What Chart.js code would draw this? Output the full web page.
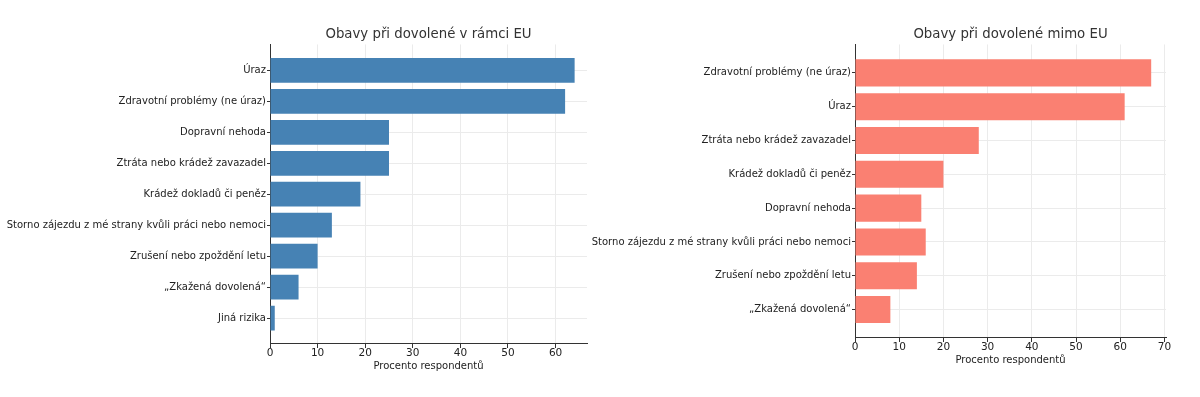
<!DOCTYPE html>
<html>
<head>
<meta charset="utf-8">
<script src="https://cdn.jsdelivr.net/npm/chart.js@4"></script>
<style>
  html, body { margin: 0; padding: 0; background: #fff; }
  body { width: 1200px; height: 397px; position: relative; overflow: hidden; }
  .box { position: absolute; top: 0; height: 397px; }
</style>
</head>
<body>
<div class="box" style="left:0;width:600px"><canvas id="euChart"></canvas></div>
<div class="box" style="left:585px;width:615px"><canvas id="nonEuChart"></canvas></div>
<script>
// values (percent of respondents)
const euLabels = [
    'Úraz',
    'Zdravotní problémy (ne úraz)',
    'Dopravní nehoda',
    'Ztráta nebo krádež zavazadel',
    'Krádež dokladů či peněz',
    'Storno zájezdu z mé strany kvůli práci nebo nemoci',
    'Zrušení nebo zpoždění letu',
    '„Zkažená dovolená“',
    'Jiná rizika'
];
const euValues = [64, 62, 25, 25, 19, 13, 10, 6, 1];

const nonEuLabels = [
    'Zdravotní problémy (ne úraz)',
    'Úraz',
    'Ztráta nebo krádež zavazadel',
    'Krádež dokladů či peněz',
    'Dopravní nehoda',
    'Storno zájezdu z mé strany kvůli práci nebo nemoci',
    'Zrušení nebo zpoždění letu',
    '„Zkažená dovolená“'
];
const nonEuValues = [67, 61, 28, 20, 15, 16, 14, 8];

const xTicks = [0, 10, 20, 30, 40, 50, 60, 70];

Chart.defaults.font.family = "'DejaVu Sans', sans-serif";
Chart.defaults.color = '#222';

window.barCharts = {
    _instances: {},

    create: function (canvasId, cfg) {
        const ctx = document.getElementById(canvasId);
        if (!ctx) return;
        const points = cfg.values.map((v, i) => ({ x: v, y: i }));
        const n = cfg.labels.length;

        this._instances[canvasId] = new Chart(ctx, {
            type: 'bar',
            data: {
                datasets: [{
                    data: points,
                    backgroundColor: cfg.color,
                    borderWidth: 0,
                    barPercentage: 0.8,
                    categoryPercentage: 1.0
                }]
            },
            options: {
                indexAxis: 'y',
                responsive: true,
                maintainAspectRatio: false,
                animation: false,
                layout: { padding: { left: 0, right: cfg.padRight, top: 0, bottom: 0 } },
                plugins: {
                    legend: { display: false },
                    tooltip: { enabled: false },
                    title: {
                        display: true,
                        text: cfg.title,
                        fullSize: false,
                        color: '#333',
                        font: { size: 13.3, weight: 'normal' },
                        padding: { top: 27, bottom: 1.5 }
                    }
                },
                scales: {
                    x: {
                        type: 'linear',
                        min: 0,
                        max: cfg.xMax,
                        afterBuildTicks: function (scale) {
                            scale.ticks = xTicks.filter(t => t <= cfg.xMax).map(t => ({ value: t }));
                        },
                        ticks: { font: { size: 10.5 }, padding: -1, color: '#222' },
                        grid: { color: '#ebebeb', tickColor: '#333', tickLength: 4, lineWidth: 1 },
                        border: { display: true, color: '#333', width: 1 },
                        title: {
                            display: true,
                            text: 'Procento respondentů',
                            font: { size: 10 },
                            color: '#222',
                            padding: { top: 0, bottom: cfg.xTitlePad }
                        },
                        afterFit: function (scale) { scale.height = cfg.xHeight; }
                    },
                    y: {
                        type: 'linear',
                        reverse: true,
                        offset: false,
                        bounds: 'data',
                        min: -0.84,
                        max: n - 1 + 0.84,
                        afterBuildTicks: function (scale) {
                            scale.ticks = cfg.labels.map((l, i) => ({ value: i }));
                        },
                        ticks: {
                            font: { size: 10 },
                            padding: 1,
                            color: '#222',
                            callback: function (v) { return cfg.labels[v]; }
                        },
                        grid: { offset: false, color: '#ebebeb', tickColor: '#333', tickLength: 3, lineWidth: 1 },
                        border: { display: true, color: '#333', width: 1 },
                        afterFit: function (scale) { scale.width = cfg.yWidth; }
                    }
                }
            }
        });
    }
};

barCharts.create('euChart', {
    labels: euLabels,
    values: euValues,
    color: '#4682B4',
    title: 'Obavy při dovolené v rámci EU',
    xMax: 66.6,
    padRight: 13,
    yWidth: 270,
    xHeight: 53,
    xTitlePad: 25
});

barCharts.create('nonEuChart', {
    labels: nonEuLabels,
    values: nonEuValues,
    color: '#FA8072',
    title: 'Obavy při dovolené mimo EU',
    xMax: 70.35,
    padRight: 34,
    yWidth: 270,
    xHeight: 59,
    xTitlePad: 31
});
</script>
</body>
</html>
